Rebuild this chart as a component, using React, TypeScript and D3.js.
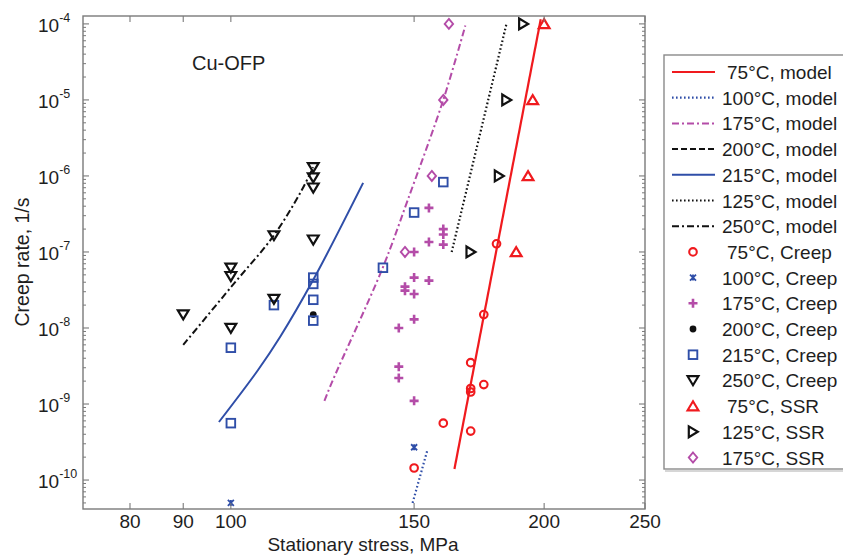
import React from "react";
import * as d3 from "d3";

const W = 843;
const H = 557;

// Axis ticks
const xTicks = [80, 90, 100, 150, 200, 250];
const yDecades = [-10, -9, -8, -7, -6, -5, -4];

// Model curves: [stationary stress (MPa), creep rate (1/s)]
const model75: [number, number][] = [[164, 1.4e-10], [198.5, 1.15e-4]];
const model100: [number, number][] = [[149.5, 5e-11], [154.5, 2.5e-10]];
const model175: [number, number][] = [[123, 1.1e-9], [125.2, 2e-9], [139.8, 6e-8], [147.8, 4.7e-7], [160, 1e-5], [168, 9.5e-5]];
const model200: [number, number][] = [];
const model215: [number, number][] = [[97.4, 5.8e-10], [106.2, 2.8e-9], [111.5, 7.6e-9], [120, 4.3e-8], [134, 8.1e-7]];
const model125: [number, number][] = [[163, 1e-7], [184, 1e-4]];
const model250: [number, number][] = [[90, 6e-9], [100.3, 3.6e-8], [109.8, 1.6e-7], [116.6, 6e-7], [120, 1.3e-6]];

// Measured creep rates
const creep75: [number, number][] = [[150, 1.44e-10], [160, 5.6e-10], [170, 4.4e-10], [170, 1.6e-9], [170, 1.44e-9], [175, 1.8e-9], [170, 3.5e-9], [175, 1.5e-8], [180, 1.28e-7]];
const creep100: [number, number][] = [[150, 2.7e-10], [100, 5e-11]];
const creep175: [number, number][] = [[155, 3.8e-7], [160, 2e-7], [160, 1.7e-7], [155, 1.35e-7], [160, 1.25e-7], [150, 1e-7], [150, 4.6e-8], [155, 4.2e-8], [147, 3.5e-8], [147, 3.1e-8], [150, 2.8e-8], [150, 1.3e-8], [145, 1e-8], [145, 3.1e-9], [145, 2.2e-9], [150, 1.1e-9]];
const creep200: [number, number][] = [[120, 1.5e-8]];
const creep215: [number, number][] = [[100, 5.6e-10], [100, 5.5e-9], [110, 2e-8], [120, 1.25e-8], [120, 2.35e-8], [120, 3.8e-8], [120, 4.6e-8], [140, 6.2e-8], [150, 3.3e-7], [160, 8.3e-7]];
const creep250: [number, number][] = [[90, 1.5e-8], [100, 1e-8], [100, 4.8e-8], [100, 6.2e-8], [110, 2.4e-8], [110, 1.65e-7], [120, 1.45e-7], [120, 7e-7], [120, 9.5e-7], [120, 1.3e-6]];

// Strain-rate tests
const ssr75: [number, number][] = [[188, 1e-7], [193, 1e-6], [195, 1e-5], [200, 1e-4]];
const ssr125: [number, number][] = [[170, 1e-7], [181, 1e-6], [184, 1e-5], [191, 1e-4]];
const ssr175: [number, number][] = [[147, 1e-7], [156, 1e-6], [160, 1e-5], [162, 1e-4]];

const RED = "#f01a1e";
const BLUE = "#2f4ea8";
const MAGENTA = "#b44ca8";
const BLACK = "#111111";

type Shape = "circle" | "x" | "plus" | "dot" | "square" | "triDown" | "triUp" | "triRight" | "diamond";

const modelSeries = [
  { label: "75°C, model", data: model75, color: RED, dash: "", width: 2.2 },
  { label: "100°C, model", data: model100, color: BLUE, dash: "1.6 2.4", width: 2.2 },
  { label: "175°C, model", data: model175, color: MAGENTA, dash: "7 3 2 3", width: 2 },
  { label: "200°C, model", data: model200, color: BLACK, dash: "6 3", width: 2 },
  { label: "215°C, model", data: model215, color: BLUE, dash: "", width: 2 },
  { label: "125°C, model", data: model125, color: BLACK, dash: "1.6 2.4", width: 2.2 },
  { label: "250°C, model", data: model250, color: BLACK, dash: "7 3 2 3", width: 2 },
];

const pointSeries: { label: string; data: [number, number][]; color: string; shape: Shape }[] = [
  { label: "75°C, Creep", data: creep75, color: RED, shape: "circle" },
  { label: "100°C, Creep", data: creep100, color: BLUE, shape: "x" },
  { label: "175°C, Creep", data: creep175, color: MAGENTA, shape: "plus" },
  { label: "200°C, Creep", data: creep200, color: BLACK, shape: "dot" },
  { label: "215°C, Creep", data: creep215, color: BLUE, shape: "square" },
  { label: "250°C, Creep", data: creep250, color: BLACK, shape: "triDown" },
  { label: "75°C, SSR", data: ssr75, color: RED, shape: "triUp" },
  { label: "125°C, SSR", data: ssr125, color: BLACK, shape: "triRight" },
  { label: "175°C, SSR", data: ssr175, color: MAGENTA, shape: "diamond" },
];

function Marker({ shape, x, y, color }: { shape: Shape; x: number; y: number; color: string }) {
  const sw = 1.9;
  switch (shape) {
    case "circle":
      return <circle cx={x} cy={y} r={3.8} fill="none" stroke={color} strokeWidth={2.1} />;
    case "x":
      return <path d={`M${x - 3},${y - 3}L${x + 3},${y + 3}M${x - 3},${y + 3}L${x + 3},${y - 3}M${x},${y - 3}L${x},${y + 3}`} stroke={color} strokeWidth={1.8} fill="none" />;
    case "plus":
      return <path d={`M${x - 4.5},${y}L${x + 4.5},${y}M${x},${y - 4.5}L${x},${y + 4.5}`} stroke={color} strokeWidth={2.6} fill="none" />;
    case "dot":
      return <circle cx={x} cy={y} r={3.4} fill={color} />;
    case "square":
      return <rect x={x - 4.3} y={y - 4.3} width={8.6} height={8.6} fill="none" stroke={color} strokeWidth={sw} />;
    case "triDown":
      return <path d={`M${x - 5.4},${y - 4.2}L${x + 5.4},${y - 4.2}L${x},${y + 4.8}Z`} fill="none" stroke={color} strokeWidth={2.2} />;
    case "triUp":
      return <path d={`M${x - 5.4},${y + 4.2}L${x + 5.4},${y + 4.2}L${x},${y - 4.8}Z`} fill="none" stroke={color} strokeWidth={2.2} />;
    case "triRight":
      return <path d={`M${x - 4.2},${y - 5.4}L${x - 4.2},${y + 5.4}L${x + 4.8},${y}Z`} fill="none" stroke={color} strokeWidth={2.2} />;
    case "diamond":
      return <path d={`M${x},${y - 5}L${x + 4.2},${y}L${x},${y + 5}L${x - 4.2},${y}Z`} fill="none" stroke={color} strokeWidth={sw} />;
  }
  return null;
}

export default function App() {
  const left = 83, right = 645, top = 16, bottom = 509;
  const x = d3.scaleLog().domain([72.1, 250]).range([left, right]);
  const y = d3.scaleLog().domain([4.16e-11, 1.27e-4]).range([bottom, top]);

  const line = d3
    .line<[number, number]>()
    .x((d) => x(d[0]))
    .y((d) => y(d[1]))
    .curve(d3.curveCatmullRom.alpha(0.5));

  const axisColor = "#7a7a7a";
  const textColor = "#1e1e1e";
  const font = "'Liberation Sans', Arial, Helvetica, sans-serif";

  // minor ticks on the log rate axis
  const minor: number[] = [];
  for (let d = -11; d <= -4; d++) {
    for (let k = 2; k <= 9; k++) {
      const v = k * Math.pow(10, d);
      if (v >= 4.16e-11 && v <= 1.27e-4) minor.push(v);
    }
  }

  const legendX = 664, legendY = 55, legendH = 414;
  const rowY0 = 72, rowStep = 25.7;
  const legendRows = [
    ...modelSeries.map((s) => ({ kind: "line" as const, ...s })),
    ...pointSeries.map((s) => ({ kind: "marker" as const, ...s })),
  ];

  return (
    <svg width={W} height={H} viewBox={`0 0 ${W} ${H}`} style={{ display: "block", position: "absolute", left: 0, top: 0, background: "#fff" }} fontFamily={font}>
      <rect x={0} y={0} width={W} height={H} fill="#fff" />

      {/* model curves */}
      <g fill="none">
        {modelSeries.map((s) =>
          s.data.length > 1 ? (
            <path key={s.label} d={line(s.data) || ""} stroke={s.color} strokeWidth={s.width} strokeDasharray={s.dash || undefined} />
          ) : null
        )}
      </g>

      {/* measured points */}
      <g>
        {pointSeries.map((s) =>
          s.data.map((d, i) => <Marker key={s.label + i} shape={s.shape} x={x(d[0])} y={y(d[1])} color={s.color} />)
        )}
      </g>

      {/* axes box */}
      <rect x={left} y={top} width={right - left} height={bottom - top} fill="none" stroke={axisColor} strokeWidth={1.4} />

      {/* stress ticks (bottom and top, pointing inward) */}
      {xTicks.map((t) => (
        <g key={"xt" + t}>
          <line x1={x(t)} x2={x(t)} y1={bottom} y2={bottom - 6} stroke={axisColor} strokeWidth={1.1} />
          <line x1={x(t)} x2={x(t)} y1={top} y2={top + 6} stroke={axisColor} strokeWidth={1.1} />
          <text x={x(t)} y={528} textAnchor="middle" fontSize={19} fill={textColor}>
            {t}
          </text>
        </g>
      ))}

      {/* rate ticks */}
      {minor.map((v, i) => (
        <g key={"mn" + i}>
          <line x1={left} x2={left + 3} y1={y(v)} y2={y(v)} stroke={axisColor} strokeWidth={1} />
          <line x1={right} x2={right - 3} y1={y(v)} y2={y(v)} stroke={axisColor} strokeWidth={1} />
        </g>
      ))}
      {yDecades.map((d) => {
        const yy = y(Math.pow(10, d));
        return (
          <g key={"yd" + d}>
            <line x1={left} x2={left + 6} y1={yy} y2={yy} stroke={axisColor} strokeWidth={1.1} />
            <line x1={right} x2={right - 6} y1={yy} y2={yy} stroke={axisColor} strokeWidth={1.1} />
            <text x={38} y={yy + 8} fontSize={19} fill={textColor}>
              10
              <tspan dy={-10} fontSize={12.5}>
                {String(d)}
              </tspan>
            </text>
          </g>
        );
      })}

      {/* axis titles */}
      <text x={363} y={551} textAnchor="middle" fontSize={19} fill={textColor}>
        Stationary stress, MPa
      </text>
      <text transform={`translate(29,262) rotate(-90)`} textAnchor="middle" fontSize={19.5} fill={textColor}>
        Creep rate, 1/s
      </text>

      <text x={192} y={70} fontSize={20} fill={textColor}>
        Cu-OFP
      </text>

      {/* legend */}
      <rect x={legendX} y={legendY} width={W - legendX + 20} height={legendH} fill="#fff" stroke="#8a8a8a" strokeWidth={1.4} />
      <line x1={legendX + 1} x2={W} y1={legendY + legendH + 2} y2={legendY + legendH + 2} stroke="#c8c8c8" strokeWidth={1.5} />
      {legendRows.map((r, i) => {
        const ry = rowY0 + i * rowStep;
        const twoDigit = /^\d\d°/.test(r.label);
        return (
          <g key={"lg" + i}>
            {r.kind === "line" ? (
              <line x1={672} x2={715} y1={ry} y2={ry} stroke={r.color} strokeWidth={r.width} strokeDasharray={r.dash || undefined} />
            ) : (
              <Marker shape={r.shape} x={693} y={ry} color={r.color} />
            )}
            <text x={twoDigit ? 727 : 722} y={ry + 7} fontSize={19} fill={textColor}>
              {r.label}
            </text>
          </g>
        );
      })}
    </svg>
  );
}
